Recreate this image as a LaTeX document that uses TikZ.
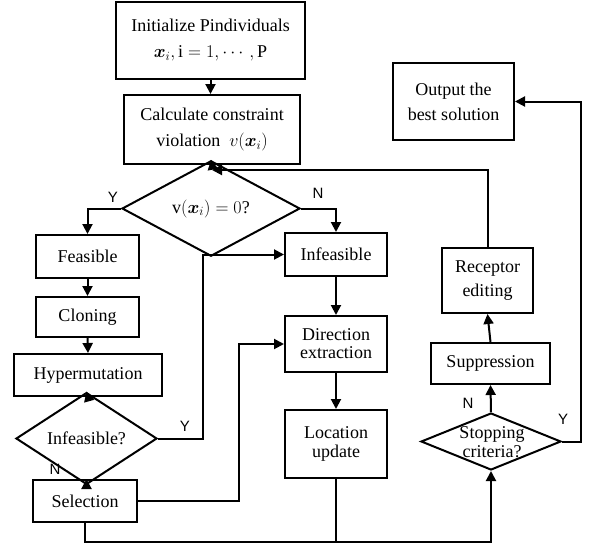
\RequirePackage{fix-cm}
\documentclass[tikz,border=0pt]{standalone}
\usepackage{amsmath,bm}
\usepackage{fontspec}
\setmainfont{Liberation Serif}
\setsansfont{Liberation Sans}
\usetikzlibrary{shapes.geometric,arrows.meta}
\tikzset{
  box/.style={draw, line width=2pt, align=center, inner sep=0pt,
    font=\rmfamily\fontsize{18}{22}\selectfont},
  decision/.style={diamond, draw, line width=2pt, inner sep=0pt,
    font=\rmfamily\fontsize{18}{22}\selectfont},
  flow/.style={line width=2pt, -{Triangle[length=10pt,width=10pt]}},
  plain/.style={line width=2pt},
  yn/.style={font=\sffamily\fontsize{15}{15}\selectfont}
}

\begin{document}
\begin{tikzpicture}[x=1pt,y=-1pt]
    \useasboundingbox (0,0) rectangle (590,547);

    % left column
    \node[box, minimum width=189, minimum height=77] (init) at (210.5,40.5)
      {Initialize Pindividuals\\[4pt] $\bm{x}_i, \mathrm{i} = 1, \cdots, \mathrm{P}$};
    \node[box, minimum width=176, minimum height=69] (calc) at (212,129.5)
      {Calculate constraint\\[4pt] violation\ \ $v(\bm{x}_i)$};
    \node[decision, minimum width=178, minimum height=51] (vdec) at (211,208.5)
      {$\mathrm{v}(\bm{x}_i) = 0$?};
    \node[box, minimum width=103, minimum height=43] (feas) at (87.5,256.5) {Feasible};
    \node[box, minimum width=103, minimum height=40] (clon) at (87.5,317) {Cloning};
    \node[box, minimum width=148, minimum height=42] (hyper) at (88,375) {Hypermutation};
    \node[decision, minimum width=141, minimum height=51] (infq) at (86.5,438.5) {Infeasible?};
    \node[box, minimum width=104, minimum height=42] (sel) at (85,501) {Selection};

    % middle column
    \node[box, minimum width=102, minimum height=43] (inf) at (336,254.5) {Infeasible};
    \node[box, minimum width=102, minimum height=56] (dir) at (336,344)
      {Direction\\[-4pt] extraction};
    \node[box, minimum width=102, minimum height=68] (loc) at (336,444)
      {Location\\[-3pt] update};

    % right column
    \node[decision, minimum width=140, minimum height=57] (stop) at (491,441.5) {};
    \node[font=\rmfamily\fontsize{18}{19}\selectfont, align=center] (stoptxt) at (492,442.5)
      {Stopping\\criteria?};
    \node[box, minimum width=119, minimum height=41] (supp) at (490.5,363.5) {Suppression};
    \node[box, minimum width=91, minimum height=65] (rec) at (487.5,280.5)
      {Receptor\\[2pt] editing};
    \node[box, minimum width=121, minimum height=77] (out) at (453.5,101.5)
      {Output the\\[3pt] best solution};

    \coordinate (fb) at (212,170);
    \coordinate (bot) at (491,542);

    % main flow
    \draw[flow] (init.south) -- (init.south |- calc.north);
    \draw[flow] (calc.south) -- (vdec.north);
    \draw[flow] (rec.north) |- (fb);
    \draw[flow] (vdec.west) -| (feas.north);
    \draw[flow] (vdec.east) -| (inf.north);
    \draw[flow] (feas.south) -- (clon.north);
    \draw[flow] (clon.south) -- (hyper.north);
    \draw[flow] (hyper.south) -- (infq.north);
    \draw[flow] (infq.south) -- (infq.south |- sel.north);
    \draw[flow] (infq.east) -- ++(45,0) |- (inf.west);
    \draw[flow] (sel.east) -- ++(101,0) |- (dir.west);
    \draw[flow] (sel.south) |- (bot) -- (stop.south);
    \draw[plain] (loc.south) -- (loc.south |- bot);
    \draw[flow] (inf.south) -- (dir.north);
    \draw[flow] (dir.south) -- (loc.north);
    \draw[flow] (stop.north) -- (supp.south);
    \draw[flow] (supp.north) -- (rec.south);
    \draw[flow] (stop.east) -- (581,441.5) |- (out.east);

    % labels
    \node[yn] (y1) at (113,197) {Y};
    \node[yn] (n1) at (318,193) {N};
    \node[yn] (y2) at (185,426) {Y};
    \node[yn] (n2) at (55,469) {N};
    \node[yn] (n3) at (468,403) {N};
    \node[yn] (y3) at (563,419) {Y};
\end{tikzpicture}
\end{document}
